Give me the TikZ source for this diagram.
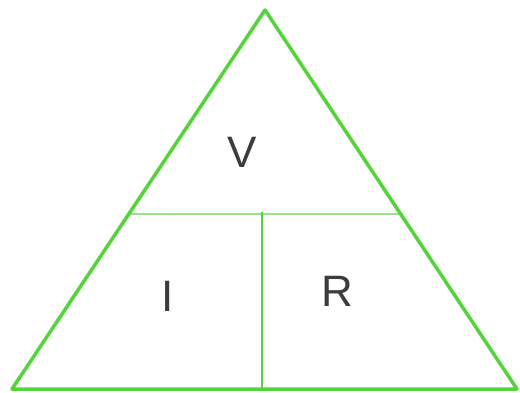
\documentclass[tikz,border=0pt]{standalone}
\usepackage{fontspec}
\setmainfont{Liberation Sans}
\usetikzlibrary{positioning}
\definecolor{trigreen}{HTML}{52D43A}
\definecolor{trilight}{HTML}{98E488}
\definecolor{trigray}{HTML}{3C3C3C}

\begin{document}
\begin{tikzpicture}[x=1pt, y=-1pt,
    edge/.style={draw=trigreen, line width=3.5pt, line join=round},
    split/.style={draw=trilight, line width=2.2pt},
    divider/.style={draw=trigreen, line width=2pt},
    letter/.style={text=trigray, inner sep=0pt, font=\fontsize{44}{44}\selectfont}]
    \useasboundingbox (0,0) rectangle (520,392);
    % corners of the triangle
    \coordinate (top) at (265,10);
    \coordinate (left) at (12,389);
    \coordinate (right) at (517,389);
    \coordinate (midl) at (128,214);
    \coordinate (midr) at (403,214);
    \coordinate (splitt) at (262,212);
    \coordinate (splitb) at (262,389);
    \draw[split] (midl) -- (midr);
    \draw[divider] (splitt) -- (splitb);
    \draw[edge] (top) -- (left) -- (right) -- cycle;
    % labels
    \node[letter] (v) at (242,152) {V};
    \node[letter] (i) at (168,296) {I};
    \node[letter] (r) at (337,291) {R};
\end{tikzpicture}
\end{document}
